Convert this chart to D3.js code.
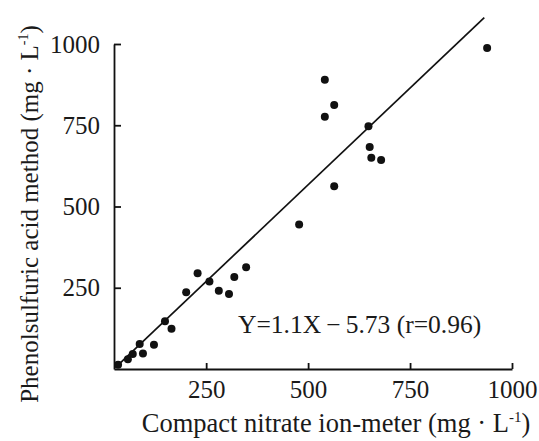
<!DOCTYPE html>
<html>
<head>
<meta charset="utf-8">
<script src="https://cdn.jsdelivr.net/npm/d3@7"></script>
<style>
  body { margin: 0; background: white; }
</style>
</head>
<body>
<div id="wykres"></div>
<script>
// values
var ionMeter = [939, 541, 541, 564, 648, 651, 655, 679, 564, 478, 348, 319, 306, 281, 258, 229, 201, 149, 165, 122, 87, 95, 70, 58, 34];
var phenol   = [988, 890, 776, 812, 747, 683, 650, 643, 562, 445, 313, 283, 231, 241, 269, 295, 236, 147, 124, 75, 77, 48, 46, 30, 13];
var xTicks = [250, 500, 750, 1000];
var yTicks = [250, 500, 750, 1000];
// fitted line as drawn (end points)
var fitX = [28, 932];
var fitY = [5, 1081];
var rownanie = "Y=1.1X\u2009\u2212\u20095.73 (r=0.96)";

var dane = ionMeter.map(function (d, i) { return { x: d, y: phenol[i] }; });
var linia = fitX.map(function (d, i) { return { x: d, y: fitY[i] }; });

var serif = "'Liberation Serif', 'DejaVu Serif', serif";
var fontSize = "25px";

var svg = d3.select("#wykres")
  .append("svg")
  .attr("width", 539)
  .attr("height", 441)
  .style("background", "white");

var xscale = d3.scaleLinear()
  .domain([24, 1000])
  .range([114, 512]);

var yscale = d3.scaleLinear()
  .domain([0, 1000])
  .range([369, 44]);

var formatNum = d3.format("d");

var xAxis = svg.append("g")
  .attr("class", "xAxis")
  .attr("transform", "translate(0," + yscale(0) + ")")
  .call(d3.axisBottom(xscale).tickValues(xTicks).tickFormat(formatNum)
    .tickSizeInner(-6).tickSizeOuter(0).tickPadding(11));

var yAxis = svg.append("g")
  .attr("class", "yAxis")
  .attr("transform", "translate(" + xscale(24) + ",0)")
  .call(d3.axisLeft(yscale).tickValues(yTicks).tickFormat(formatNum)
    .tickSizeInner(-7).tickSizeOuter(0).tickPadding(14));

svg.selectAll(".xAxis, .yAxis").attr("font-family", serif);

svg.selectAll(".xAxis text, .yAxis text")
  .style("font-family", serif)
  .style("font-size", fontSize)
  .attr("fill", "#1a1a1a");

svg.selectAll(".xAxis path, .yAxis path, .xAxis line, .yAxis line")
  .attr("stroke", "#111")
  .attr("stroke-width", 1.8);

svg.append("path")
  .datum(linia)
  .attr("fill", "none")
  .attr("stroke", "#111")
  .attr("stroke-width", 1.7)
  .attr("d", d3.line()
    .x(function (d) { return xscale(d.x) })
    .y(function (d) { return yscale(d.y) })
  );

svg.selectAll(".kropka")
  .data(dane)
  .enter()
  .append("circle")
  .attr("class", "kropka")
  .attr("cx", function (d) { return xscale(d.x); })
  .attr("cy", function (d) { return yscale(d.y); })
  .attr("r", 4)
  .attr("fill", "#111");

svg.append("text")
  .attr("x", 238)
  .attr("y", 333)
  .attr("fill", "#1a1a1a")
  .style("font-family", serif)
  .style("font-size", "25.5px")
  .text(rownanie);

// x axis title
var tx = svg.append("text")
  .attr("x", 336)
  .attr("y", 432)
  .attr("text-anchor", "middle")
  .attr("fill", "#1a1a1a")
  .style("font-family", serif)
  .style("font-size", "26.5px");
tx.append("tspan").text("Compact nitrate ion-meter (mg \u00b7 L");
tx.append("tspan").attr("dy", -10).style("font-size", "15px").text("-1");
tx.append("tspan").attr("dy", 10).text(")");

// y axis title
var ty = svg.append("text")
  .attr("transform", "translate(38,214)rotate(-90)")
  .attr("text-anchor", "middle")
  .attr("fill", "#1a1a1a")
  .style("font-family", serif)
  .style("font-size", fontSize);
ty.append("tspan").text("Phenolsulfuric acid method (mg \u00b7 L");
ty.append("tspan").attr("dy", -10).style("font-size", "14px").text("-1");
ty.append("tspan").attr("dy", 10).text(")");
</script>
</body>
</html>
